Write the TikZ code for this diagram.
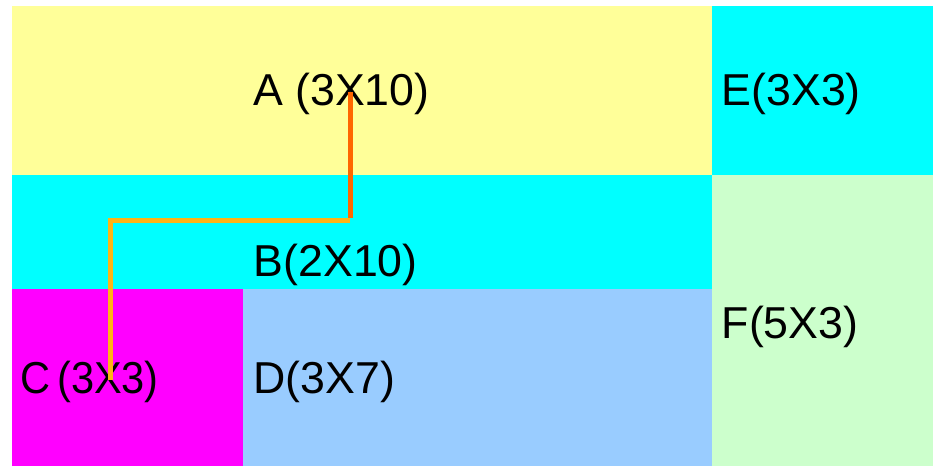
\documentclass[tikz,border=0pt]{standalone}
\usepackage{fontspec}
\setmainfont{Liberation Sans}
\definecolor{ayel}{HTML}{FFFF99}
\definecolor{acyan}{HTML}{00FFFF}
\definecolor{amag}{HTML}{FF00FF}
\definecolor{ablue}{HTML}{99CCFF}
\definecolor{agreen}{HTML}{CCFFCC}
\definecolor{lineorange}{HTML}{FF6600}
\definecolor{lineamber}{HTML}{FFB414}
\begin{document}
\begin{tikzpicture}[x=1pt,y=-1pt,
  lbl/.style={anchor=base west,inner sep=0pt,font=\fontsize{44.7}{50}\selectfont},
  conn/.style={line width=5pt,line cap=butt,line join=miter}]
\useasboundingbox (0,0) rectangle (933,466);
\fill[white] (0,0) rectangle (933,466);
\fill[ayel]   (12,6)   rectangle (712,175);
\fill[acyan]  (712,6)  rectangle (933,175);
\fill[acyan]  (12,175) rectangle (712,289);
\fill[amag]   (12,289) rectangle (243,466);
\fill[ablue]  (243,289) rectangle (712,466);
\fill[agreen] (712,175) rectangle (933,466);
\node[lbl] (a) at (253,105) {A (3X10)};
\node[lbl] (e) at (721.5,105) {E(3X3)};
\node[lbl] (b) at (253.5,276) {B(2X10)};
\node[lbl] (f) at (721.5,338) {F(5X3)};
\node[lbl] (c) at (20,393) {\scalebox{0.93}[1]{C\hspace{7.5pt}(3X3)}};
\node[lbl] (d) at (253.5,393) {D(3X7)};
\coordinate (p0) at (350,92);
\coordinate (p1) at (350,220);
\coordinate (p2) at (110,220);
\coordinate (p3) at (110,380);
\draw[conn,lineamber] (p1) -- (p2) -- (p3);
\draw[conn,lineorange] (p0) -- ([yshift=2.5pt]p1);
\end{tikzpicture}
\end{document}
